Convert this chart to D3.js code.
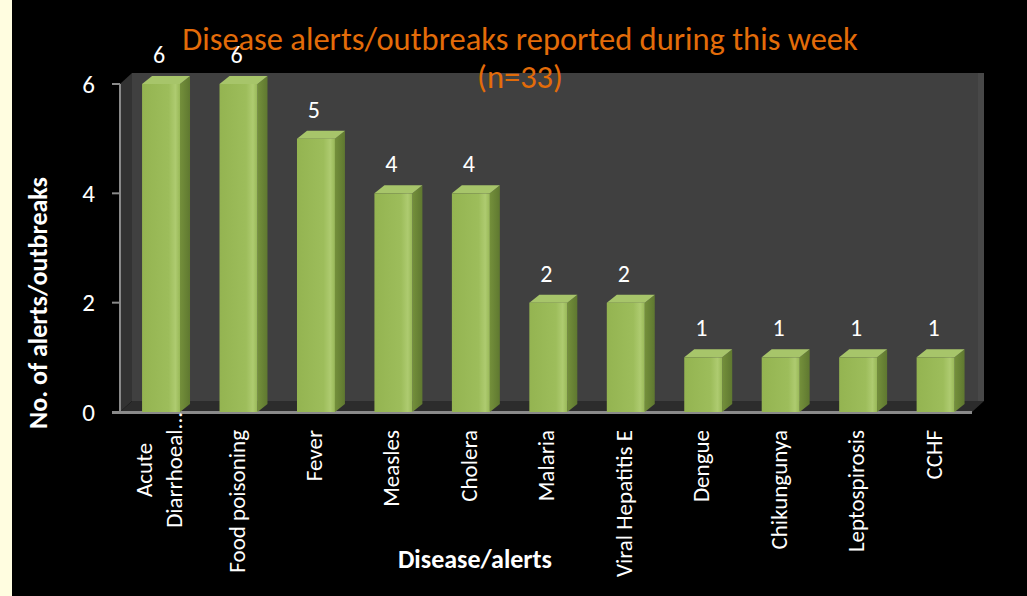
<!DOCTYPE html>
<meta charset="utf-8">
<style>
body { margin: 0; background: #000; }
text { font-family: "Carlito", "Liberation Sans Narrow", "Open Sans", sans-serif; fill: #fff; }
.title { fill: #E36C09; font-size: 32.5px; }
.axis-title { font-weight: bold; font-size: 26px; }
.tick-label { font-size: 23px; }
.ytick-label { font-size: 25px; }
.val { font-size: 24px; }
</style>
<svg width="1027" height="596"></svg>
<script src="https://cdn.jsdelivr.net/npm/d3@7"></script>
<script>

var categories = ["Acute\nDiarrhoeal...", "Food poisoning", "Fever", "Measles", "Cholera", "Malaria",
                  "Viral Hepatitis E", "Dengue", "Chikungunya", "Leptospirosis", "CCHF"];
var values = [6, 6, 5, 4, 4, 2, 2, 1, 1, 1, 1];
var yTicks = [0, 2, 4, 6];
var titleLines = ["Disease alerts/outbreaks reported during this week", "(n=33)"];

var svg = d3.select("svg"),
    width = +svg.attr("width"),
    height = +svg.attr("height");

// plot front plane and depth of the 3d box
var plotLeft = 120, plotRight = 972, plotBottom = 412, plotTop = 84;
var DX = 12, DY = -11;     // wall depth
var bdx = 10, bdy = -8;    // bar depth

var x = d3.scaleBand().domain(categories).range([plotLeft, plotRight]);
var y = d3.scaleLinear().domain([0, 6]).range([plotBottom, plotTop]);

svg.append("rect").attr("width", width).attr("height", height).attr("fill", "#000");
svg.append("rect").attr("width", 12).attr("height", height).attr("fill", "#FFFDE0");

var defs = svg.append("defs");
var g1 = defs.append("linearGradient").attr("id", "front");
g1.append("stop").attr("offset", "0%").attr("stop-color", "#94B451");
g1.append("stop").attr("offset", "70%").attr("stop-color", "#9DBD5B");
g1.append("stop").attr("offset", "88%").attr("stop-color", "#AECB70");
g1.append("stop").attr("offset", "100%").attr("stop-color", "#98B857");
var g2 = defs.append("linearGradient").attr("id", "side");
g2.append("stop").attr("offset", "0%").attr("stop-color", "#74903B");
g2.append("stop").attr("offset", "100%").attr("stop-color", "#5F7830");

// back wall
var y0 = y(0), y6 = y(6);
svg.append("rect")
    .attr("x", plotLeft + DX).attr("y", y6 + DY)
    .attr("width", plotRight - plotLeft).attr("height", y0 - y6)
    .attr("fill", "#404040");
svg.append("rect")
    .attr("x", plotRight + DX - 6).attr("y", y6 + DY)
    .attr("width", 6).attr("height", y0 - y6)
    .attr("fill", "#484848");
// side wall
svg.append("polygon")
    .attr("points", [[plotLeft, y6], [plotLeft + DX, y6 + DY], [plotLeft + DX, y0 + DY], [plotLeft, y0]].join(" "))
    .attr("fill", "#333");
// floor
svg.append("polygon")
    .attr("points", [[plotLeft, y0], [plotLeft + DX, y0 + DY], [plotRight + DX, y0 + DY], [plotRight, y0]].join(" "))
    .attr("fill", "#2c2c2c");

// axis lines
svg.append("line").attr("x1", plotLeft).attr("x2", plotLeft).attr("y1", y6).attr("y2", y0)
    .attr("stroke", "#8a8a8a").attr("stroke-width", 2);
svg.append("line").attr("x1", plotLeft - 8).attr("x2", plotRight).attr("y1", y0 + 0.5).attr("y2", y0 + 0.5)
    .attr("stroke", "#8a8a8a").attr("stroke-width", 3);

svg.selectAll(".ytick").data(yTicks).enter().append("line")
    .attr("x1", plotLeft - 8).attr("x2", plotLeft)
    .attr("y1", function(d) { return y(d); }).attr("y2", function(d) { return y(d); })
    .attr("stroke", "#8a8a8a").attr("stroke-width", 2);

svg.selectAll(".ylab").data(yTicks).enter().append("text")
    .attr("class", "ytick-label")
    .attr("x", plotLeft - 25).attr("y", function(d) { return y(d); })
    .attr("dy", "0.35em").attr("text-anchor", "end")
    .text(function(d) { return d; });

// bars
var bw = x.bandwidth();
var bar = svg.selectAll(".bar").data(categories).enter().append("g").attr("class", "bar");

function fx(d) { return x(d) + bw * 0.285; }
var fw = bw * 0.49;

bar.append("polygon")
    .attr("points", function(d, i) {
      var x0 = fx(d) + fw, yt = y(values[i]);
      return [[x0, yt], [x0 + bdx, yt + bdy], [x0 + bdx, y0 + bdy], [x0, y0]].join(" ");
    })
    .attr("fill", "url(#side)");
bar.append("polygon")
    .attr("points", function(d, i) {
      var x0 = fx(d), yt = y(values[i]);
      return [[x0, yt], [x0 + bdx, yt + bdy], [x0 + fw + bdx, yt + bdy], [x0 + fw, yt]].join(" ");
    })
    .attr("fill", "#A7C56A");
bar.append("rect")
    .attr("x", fx).attr("y", function(d, i) { return y(values[i]); })
    .attr("width", fw).attr("height", function(d, i) { return y0 - y(values[i]); })
    .attr("fill", "url(#front)");

bar.append("text")
    .attr("class", "val")
    .attr("x", function(d) { return fx(d) + fw / 2 - 2; })
    .attr("y", function(d, i) { return y(values[i]) - 21; })
    .attr("text-anchor", "middle")
    .text(function(d, i) { return values[i]; });

// category labels, rotated
svg.selectAll(".xlab").data(categories).enter().append("g")
    .attr("class", "xlab")
    .each(function(d) {
      var lines = d.split("\n");
      var cx = fx(d) + fw / 2;
      var g = d3.select(this);
      if (lines.length == 1) {
        g.append("text").attr("class", "tick-label")
            .attr("transform", "translate(" + (cx - 2) + "," + 430 + ") rotate(-90)")
            .attr("dy", "0.35em").attr("text-anchor", "end")
            .text(d);
      } else {
        var ts = lines.map(function(l, j) {
          return g.append("text").attr("class", "tick-label")
              .attr("dy", "0.35em").attr("text-anchor", "middle").text(l);
        });
        var w = d3.max(ts, function(t) { return t.node().getComputedTextLength(); });
        var mid = 412 + w / 2;
        ts.forEach(function(t, j) {
          var lx = cx - 2 + (j - (lines.length - 1) / 2) * 30;
          t.attr("transform", "translate(" + lx + "," + mid + ") rotate(-90)");
        });
      }
    });

// titles
svg.selectAll(".title").data(titleLines).enter().append("text")
    .attr("class", "title")
    .attr("x", 520).attr("y", function(d, i) { return 50 + i * 38; })
    .attr("text-anchor", "middle")
    .text(function(d) { return d; });

svg.append("text").attr("class", "axis-title")
    .attr("x", 475).attr("y", 568).attr("text-anchor", "middle")
    .text("Disease/alerts");

svg.append("text").attr("class", "axis-title")
    .attr("transform", "translate(38,303) rotate(-90)")
    .attr("dy", "0.35em").attr("text-anchor", "middle")
    .text("No. of alerts/outbreaks");

</script>
